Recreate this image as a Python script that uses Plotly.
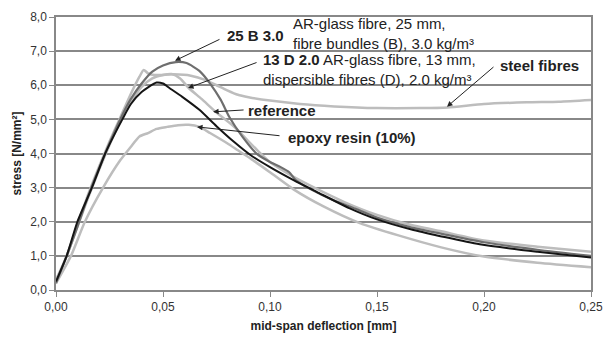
import plotly.graph_objects as go

# ---- data (mid-span deflection [mm], stress [N/mm²]) ----
steel_x = [0, 0.005, 0.01, 0.015, 0.02, 0.025, 0.03, 0.035, 0.039, 0.041, 0.043, 0.046, 0.055, 0.063,
           0.07, 0.075, 0.08, 0.085, 0.09, 0.1, 0.114, 0.13, 0.15, 0.17, 0.183, 0.2, 0.22, 0.235, 0.25]
steel_y = [0.2, 1.0, 1.9, 2.8, 3.6, 4.35, 5.05, 5.75, 6.25, 6.45, 6.35, 6.3, 6.32, 6.28,
           6.15, 6.0, 5.85, 5.72, 5.65, 5.55, 5.45, 5.38, 5.33, 5.33, 5.35, 5.45, 5.5, 5.52, 5.57]

d13_x = [0, 0.005, 0.01, 0.015, 0.02, 0.025, 0.03, 0.035, 0.04, 0.045, 0.05, 0.054, 0.058, 0.062,
         0.068, 0.075, 0.083, 0.094, 0.1, 0.11, 0.12, 0.135, 0.15, 0.165, 0.18, 0.2, 0.225, 0.25]
d13_y = [0.3, 1.0, 1.85, 2.7, 3.5, 4.25, 4.95, 5.5, 5.95, 6.2, 6.3, 6.33, 6.2, 5.92,
         5.6, 5.2, 4.8, 4.1, 3.75, 3.35, 3.02, 2.57, 2.2, 1.92, 1.72, 1.45, 1.27, 1.12]

epoxy_x = [0, 0.007, 0.0135, 0.022, 0.03, 0.035, 0.039, 0.043, 0.047, 0.052, 0.057, 0.062, 0.067,
           0.072, 0.08, 0.086, 0.091, 0.1, 0.111, 0.125, 0.142, 0.16, 0.18, 0.2, 0.225, 0.25]
epoxy_y = [0.2, 1.0, 2.0, 3.0, 3.8, 4.2, 4.5, 4.6, 4.72, 4.78, 4.83, 4.84, 4.78,
           4.6, 4.3, 4.05, 3.85, 3.45, 2.95, 2.45, 1.96, 1.6, 1.25, 0.98, 0.8, 0.67]

b25_x = [0, 0.005, 0.01, 0.015, 0.02, 0.025, 0.03, 0.035, 0.04, 0.045, 0.05, 0.056, 0.061, 0.067,
         0.072, 0.077, 0.081, 0.087, 0.094, 0.1, 0.105, 0.109, 0.112, 0.12, 0.13, 0.14, 0.15, 0.165,
         0.18, 0.2, 0.225, 0.25]
b25_y = [0.2, 1.0, 1.85, 2.75, 3.55, 4.3, 5.0, 5.6, 6.05, 6.4, 6.58, 6.68, 6.65, 6.42,
         6.05, 5.57, 5.07, 4.5, 3.98, 3.75, 3.6, 3.45, 3.22, 2.92, 2.62, 2.38, 2.12, 1.85,
         1.65, 1.4, 1.18, 1.0]

ref_x = [0, 0.005, 0.01, 0.0168, 0.023, 0.031, 0.035, 0.04, 0.047, 0.05, 0.053, 0.059, 0.067, 0.075,
         0.083, 0.091, 0.1, 0.111, 0.122, 0.137, 0.15, 0.167, 0.198, 0.225, 0.25]
ref_y = [0.25, 1.0, 2.0, 3.0, 4.0, 5.0, 5.45, 5.8, 6.08, 6.05, 5.92, 5.66, 5.28, 4.8,
         4.35, 3.95, 3.6, 3.22, 2.87, 2.4, 2.07, 1.76, 1.34, 1.12, 0.95]

x_ticks = [0, 0.05, 0.10, 0.15, 0.20, 0.25]
x_ticklabels = ["0,00", "0,05", "0,10", "0,15", "0,20", "0,25"]
y_ticks = [0, 1, 2, 3, 4, 5, 6, 7, 8]
y_ticklabels = ["0,0", "1,0", "2,0", "3,0", "4,0", "5,0", "6,0", "7,0", "8,0"]

x_title = "mid-span deflection [mm]"
y_title = "stress [N/mm²]"

FONT = "Arial, Liberation Sans, sans-serif"
LIGHT = "#bdbdbd"

fig = go.Figure()
for xs, ys, col, w in [(steel_x, steel_y, LIGHT, 2.5), (d13_x, d13_y, LIGHT, 2.5),
                       (epoxy_x, epoxy_y, LIGHT, 2.5), (b25_x, b25_y, "#6e6e6e", 2.2),
                       (ref_x, ref_y, "#151515", 2.0)]:
    fig.add_trace(go.Scatter(x=xs, y=ys, mode="lines", line=dict(color=col, width=w, shape="spline", smoothing=0.6),
                             showlegend=False, hoverinfo="skip", cliponaxis=False))

# arrows: (tip x, tip y, ax, ay in pixels)
arrows = [(0.0556, 6.72, 46, -22), (0.0617, 5.92, 70, -26), (0.1827, 5.37, 48, -41),
          (0.0734, 5.22, 32, -2), (0.0659, 4.78, 84, 9)]
for tx, ty, ax, ay in arrows:
    fig.add_annotation(x=tx, y=ty, ax=ax, ay=ay, text="", showarrow=True, arrowhead=2,
                       arrowsize=1.1, arrowwidth=1, arrowcolor="#222")

def px2paper(px, py):
    return (px - 56) / (591 - 56), (290 - py) / (290 - 17)

labels = [
    ("<b>25 B 3.0</b>", 225, 36),
    ("AR-glass fibre, 25 mm,<br>fibre bundles (B), 3.0 kg/m³", 291, 33),
    ("<b>13 D 2.0</b> AR-glass fibre, 13 mm,<br>dispersible fibres (D), 2.0 kg/m³", 261, 69),
    ("<b>steel fibres</b>", 498, 65),
    ("<b>reference</b>", 246, 110),
    ("<b>epoxy resin (10%)</b>", 286, 137),
]
for t, px, py in labels:
    xp, yp = px2paper(px, py)
    fig.add_annotation(x=xp, y=yp, xref="paper", yref="paper", text=t, showarrow=False,
                       xanchor="left", yanchor="middle", align="left",
                       font=dict(family=FONT, size=15, color="#222"))

fig.update_layout(
    width=603, height=338, margin=dict(l=56, r=12, t=17, b=48, autoexpand=False),
    paper_bgcolor="white", plot_bgcolor="white",
    font=dict(family=FONT, size=12, color="#333"),
    xaxis=dict(range=[0, 0.25], tickvals=x_ticks, ticktext=x_ticklabels, showgrid=False, zeroline=False,
               automargin=False, ticklabeloverflow="allow",
               showline=True, linecolor="#888", linewidth=1.5, mirror=True,
               ticks="outside", ticklen=5, tickcolor="#888",
               title=dict(text="<b>" + x_title + "</b>", font=dict(size=12, color="#222"), standoff=8)),
    yaxis=dict(range=[0, 8], tickvals=y_ticks, ticktext=y_ticklabels, showgrid=True, gridcolor="#888", gridwidth=1.5,
               automargin=False, ticklabeloverflow="allow",
               zeroline=False, showline=True, linecolor="#888", linewidth=1.5, mirror=True,
               ticks="outside", ticklen=5, tickcolor="#888",
               title=dict(text="<b>" + y_title + "</b>", font=dict(size=12, color="#222"), standoff=6)),
)

fig.write_html("out.html")
